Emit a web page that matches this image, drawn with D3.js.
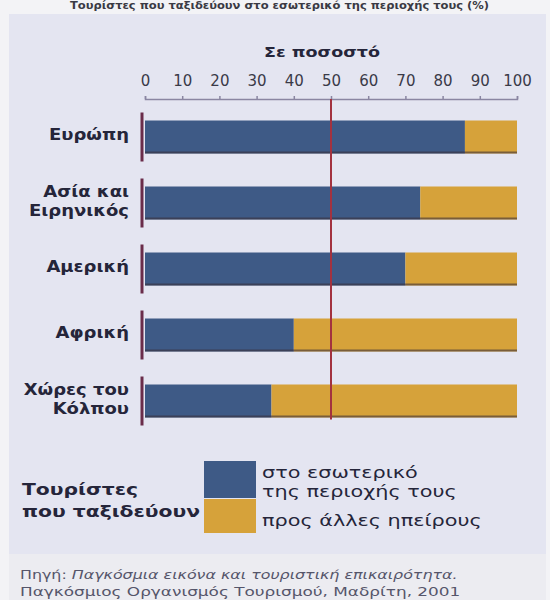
<!DOCTYPE html>
<html><head><meta charset="utf-8">
<script src="https://cdn.jsdelivr.net/npm/d3@7"></script>
<style>html,body{margin:0;padding:0;background:#f4f4f6;}svg{display:block;}</style>
</head><body>
<svg id="c" width="550" height="600"></svg>
<script>
const categories = [["Ευρώπη"], ["Ασία και", "Ειρηνικός"], ["Αμερική"], ["Αφρική"], ["Χώρες του", "Κόλπου"]];
const domestic = [86, 74, 70, 40, 34];
const otherContinents = [14, 26, 30, 60, 66];
const tickValues = [0, 10, 20, 30, 40, 50, 60, 70, 80, 90, 100];
const seriesNames = [["στο εσωτερικό", "της περιοχής τους"], ["προς άλλες ηπείρους"]];
const legendTitle = ["Τουρίστες", "που ταξιδεύουν"];
const sourceLines = ["Παγκόσμια εικόνα και τουριστική επικαιρότητα.", "Παγκόσμιος Οργανισμός Τουρισμού, Μαδρίτη, 2001"];
const colors = ["#3e5a86", "#d6a23a"];

const svg = d3.select("#c");
const font = "'DejaVu Sans', Verdana, sans-serif";
const ink = "#25253a";

// text stretched horizontally, like the scanned original
function stext(x, y, s, size, opts = {}) {
  const t = svg.append("text")
    .attr("transform", `translate(${x},${y}) scale(${s},1)`)
    .attr("font-family", font).attr("font-size", size)
    .attr("fill", opts.fill || ink)
    .attr("font-weight", opts.weight || "normal")
    .attr("text-anchor", opts.anchor || "start");
  return t;
}

// backgrounds
svg.append("rect").attr("x",0).attr("y",0).attr("width",550).attr("height",600).attr("fill","#f3f3f6");
svg.append("rect").attr("x",9).attr("y",14).attr("width",537).attr("height",540).attr("fill","#e4e5f1");
svg.append("rect").attr("x",9).attr("y",554).attr("width",537).attr("height",46).attr("fill","#ececf1");

// heading line at the top (only partly visible in the reference)
stext(70, 9, 1.15, 10, {weight:"bold", fill:"#3a3a44"})
  .text("Τουρίστες που ταξιδεύουν στο εσωτερικό της περιοχής τους (%)");

const x = d3.scaleLinear().domain([0,100]).range([145,517]);
const y = d3.scaleBand().domain(d3.range(categories.length)).range([104,434]).paddingInner(0.5).paddingOuter(0.25);

// title
stext(322, 57, 1.25, 14, {weight:"bold", anchor:"middle"}).text("Σε ποσοστό");

// axis
const axis = d3.axisTop(x).tickValues(tickValues).tickSize(3).tickPadding(10);
const gA = svg.append("g").attr("transform","translate(0,99)").call(axis);
gA.select(".domain").attr("stroke","#8a86a2").attr("stroke-width",1.5);
gA.selectAll(".tick line").attr("stroke","#8a86a2").attr("stroke-width",1.5);
gA.selectAll(".tick text").attr("font-family",font).attr("font-size",15).attr("fill","#3a3a48");

// bars
const bars = svg.append("g");
categories.forEach((c,i)=>{
  const y0 = y(i), h = y.bandwidth();
  bars.append("rect").attr("x",x(0)).attr("y",y0).attr("width",x(domestic[i])-x(0)).attr("height",h).attr("fill",colors[0]);
  bars.append("rect").attr("x",x(domestic[i])).attr("y",y0).attr("width",x(domestic[i]+otherContinents[i])-x(domestic[i])).attr("height",h).attr("fill",colors[1]);
  bars.append("rect").attr("x",x(0)).attr("y",y0+h-2).attr("width",x(100)-x(0)).attr("height",2).attr("fill","#3a2f3a").attr("opacity",0.6);
  bars.append("line").attr("x1",x(0)-3).attr("x2",x(0)-3).attr("y1",y0-8).attr("y2",y0+h+8)
    .attr("stroke","#6a2c4a").attr("stroke-width",3);
  const cy = y0 + h/2;
  const lh = 19;
  c.forEach((t,k)=>{
    stext(129, cy + (k-(c.length-1)/2)*lh + 3, 1.2, 15, {weight:"bold", anchor:"end"}).text(t);
  });
});

// 50% line
svg.append("line").attr("x1",x(50)).attr("x2",x(50)).attr("y1",99).attr("y2",y(4)+y.bandwidth()+2)
  .attr("stroke","#a3323f").attr("stroke-width",2);

// legend
stext(22, 495, 1.27, 16, {weight:"bold"}).text(legendTitle[0]);
stext(22, 517, 1.27, 16, {weight:"bold"}).text(legendTitle[1]);
svg.append("rect").attr("x",204).attr("y",461).attr("width",52).attr("height",37).attr("fill",colors[0]);
svg.append("rect").attr("x",204).attr("y",499).attr("width",52).attr("height",34).attr("fill",colors[1]);
stext(262, 478, 1.3, 16).text(seriesNames[0][0]);
stext(262, 497, 1.3, 16).text(seriesNames[0][1]);
stext(262, 526, 1.3, 16).text(seriesNames[1][0]);

// source
const src = stext(20, 579, 1.22, 13, {fill:"#55556a"});
src.append("tspan").text("Πηγή: ");
src.append("tspan").attr("font-style","italic").text(sourceLines[0]);
stext(20, 596, 1.3, 13, {fill:"#55556a"}).text(sourceLines[1]);
</script>
</body></html>
